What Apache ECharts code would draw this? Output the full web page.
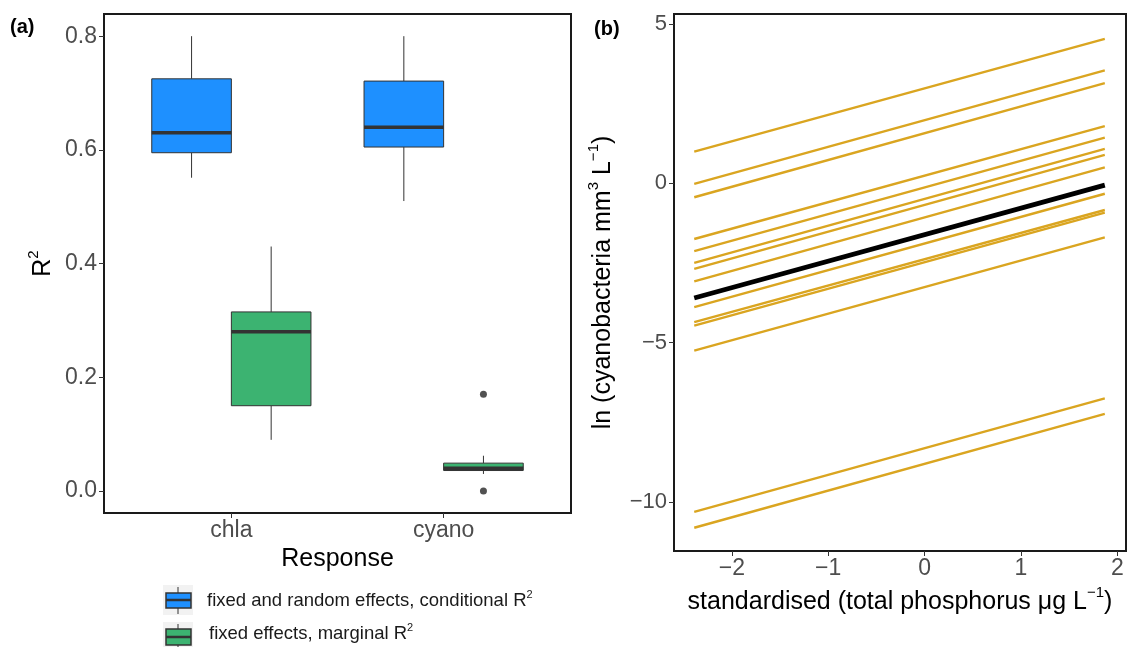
<!DOCTYPE html>
<html lang="en">
<head>
    <meta charset="UTF-8">
    <title>R2 boxplots and cyanobacteria lines</title>
    <script src="https://cdn.jsdelivr.net/npm/echarts@6.0.0/dist/echarts.min.js"></script>
    <style>
        body { margin: 0; background: #fff; }
    </style>
</head>
<body>
<div id="main" style="width: 1129px;height:647px;"></div>
<script type="text/javascript">
    // ---- panel (a) data: [lower whisker, Q1, median, Q3, upper whisker]
    var responses = ['chla', 'cyano'];
    var conditionalR2 = [
        [0.551, 0.595, 0.630, 0.725, 0.800],
        [0.510, 0.605, 0.640, 0.721, 0.800]
    ];
    var marginalR2 = [
        [0.090, 0.150, 0.280, 0.315, 0.430],
        [0.030, 0.036, 0.040, 0.049, 0.062]
    ];
    // outliers of the marginal R2 boxes: [response index, value]
    var marginalOutliers = [[1, 0.170], [1, 0.000]];
    var r2Ticks = [0, 0.2, 0.4, 0.6, 0.8];

    // ---- panel (b) data: one line per site (random intercepts) + fixed effect
    var tpRange = [-2.39, 1.87];
    var siteStart = [0.99, -0.02, -0.44, -1.75, -2.13, -2.50, -2.69, -3.08, -3.89, -4.36, -4.47, -5.25, -10.31, -10.81];
    var siteEnd = [4.53, 3.54, 3.14, 1.79, 1.43, 1.08, 0.89, 0.50, -0.33, -0.84, -0.92, -1.70, -6.75, -7.24];
    var fixedLine = [-3.60, -0.06];
    var tpTicks = [-2, -1, 0, 1, 2];
    var cyanoTicks = [-10, -5, 0, 5];

    var FONT = 'Liberation Sans, Arial, sans-serif';
    var BOX_W = 0.375;

    function minus(v) {
        return String(v).replace('-', '\u2212');
    }

    function boxItem(stats, i, offset) {
        return [i + 1 + offset].concat(stats);
    }

    function renderBox(params, api) {
        var x = api.value(0);
        var lo = api.coord([x, api.value(1)]);
        var q1 = api.coord([x, api.value(2)]);
        var md = api.coord([x, api.value(3)]);
        var q3 = api.coord([x, api.value(4)]);
        var hi = api.coord([x, api.value(5)]);
        var w = api.size([BOX_W, 0])[0];
        var edge = { stroke: '#333333', lineWidth: 1 };
        return {
            type: 'group',
            children: [
                { type: 'line', shape: { x1: hi[0], y1: hi[1], x2: q3[0], y2: q3[1] }, style: edge },
                { type: 'line', shape: { x1: lo[0], y1: lo[1], x2: q1[0], y2: q1[1] }, style: edge },
                {
                    type: 'rect',
                    shape: { x: q3[0] - w / 2, y: q3[1], width: w, height: q1[1] - q3[1] },
                    style: { fill: api.visual('color'), stroke: '#333333', lineWidth: 1 }
                },
                {
                    type: 'line',
                    shape: { x1: md[0] - w / 2, y1: md[1], x2: md[0] + w / 2, y2: md[1] },
                    style: { stroke: '#333333', lineWidth: 3.5 }
                }
            ]
        };
    }

    var myChart = echarts.init(document.getElementById('main'));

    var labelColor = '#4D4D4D';
    var supRich = {
        t: { fontSize: 25, fontFamily: FONT, color: '#000', lineHeight: 34 },
        s: { fontSize: 15, fontFamily: FONT, color: '#000', verticalAlign: 'top', lineHeight: 15 }
    };
    var legendRich = {
        t: { fontSize: 18.5, fontFamily: FONT, fill: '#1A1A1A', lineHeight: 24 },
        s: { fontSize: 11, fontFamily: FONT, fill: '#1A1A1A', verticalAlign: 'top', lineHeight: 11 }
    };
    var hiddenLine = { show: false, onZero: false };

    var series = [
        {
            name: 'conditional',
            type: 'custom',
            xAxisIndex: 0, yAxisIndex: 0,
            renderItem: renderBox,
            itemStyle: { color: '#1E90FF' },
            encode: { x: 0, y: [1, 2, 3, 4, 5] },
            data: conditionalR2.map(function (s, i) { return boxItem(s, i, -BOX_W / 2); })
        },
        {
            name: 'marginal',
            type: 'custom',
            xAxisIndex: 0, yAxisIndex: 0,
            renderItem: renderBox,
            itemStyle: { color: '#3CB371' },
            encode: { x: 0, y: [1, 2, 3, 4, 5] },
            data: marginalR2.map(function (s, i) { return boxItem(s, i, BOX_W / 2); })
        },
        {
            name: 'outliers',
            type: 'scatter',
            xAxisIndex: 0, yAxisIndex: 0,
            symbolSize: 7,
            itemStyle: { color: '#262626' },
            data: marginalOutliers.map(function (o) { return [o[0] + 1 + BOX_W / 2, o[1]]; })
        }
    ];

    for (var i = 0; i < siteStart.length; i++) {
        series.push({
            type: 'line',
            xAxisIndex: 1, yAxisIndex: 1,
            showSymbol: false,
            lineStyle: { color: '#DAA520', width: 2.4 },
            data: [[tpRange[0], siteStart[i]], [tpRange[1], siteEnd[i]]]
        });
    }
    series.push({
        type: 'line',
        xAxisIndex: 1, yAxisIndex: 1,
        showSymbol: false,
        z: 5,
        lineStyle: { color: '#000000', width: 4.8 },
        data: [[tpRange[0], fixedLine[0]], [tpRange[1], fixedLine[1]]]
    });

    var option = {
        animation: false,
        grid: [
            { left: 104, top: 14, width: 467, height: 499, show: true, borderColor: '#1A1A1A', borderWidth: 2 },
            { left: 674, top: 14, width: 452, height: 537, show: true, borderColor: '#1A1A1A', borderWidth: 2 }
        ],
        xAxis: [
            {
                type: 'value', gridIndex: 0, min: 0.4, max: 2.6,
                splitLine: { show: false },
                axisLine: hiddenLine,
                axisTick: { customValues: [1, 2], length: 5, lineStyle: { color: '#333' } },
                axisLabel: {
                    customValues: [1, 2], fontSize: 23, margin: 6,
                    color: labelColor, fontFamily: FONT,
                    formatter: function (v) { return responses[Math.round(v) - 1]; }
                },
                name: 'Response', nameLocation: 'middle', nameGap: 28,
                nameTextStyle: { fontSize: 25, color: '#000', fontFamily: FONT }
            },
            {
                type: 'value', gridIndex: 1, min: -2.6, max: 2.09,
                splitLine: { show: false },
                axisLine: hiddenLine,
                axisTick: { customValues: tpTicks, length: 5, lineStyle: { color: '#333' } },
                axisLabel: {
                    customValues: tpTicks, fontSize: 23, margin: 6,
                    color: labelColor, fontFamily: FONT,
                    formatter: function (v) { return minus(v); }
                },
                name: '{t|standardised (total phosphorus \u03bcg L}{s|\u22121}{t|)}',
                nameLocation: 'middle', nameGap: 30,
                nameTextStyle: { rich: supRich }
            }
        ],
        yAxis: [
            {
                type: 'value', gridIndex: 0, min: -0.0387, max: 0.839,
                splitLine: { show: false },
                axisLine: hiddenLine,
                axisTick: { customValues: r2Ticks, length: 5, lineStyle: { color: '#333' } },
                axisLabel: {
                    customValues: r2Ticks, fontSize: 23, margin: 7,
                    color: labelColor, fontFamily: FONT,
                    formatter: function (v) { return v.toFixed(1); }
                },
                name: '{t|R}{s|2}', nameLocation: 'middle', nameGap: 44, nameRotate: 90,
                nameTextStyle: { rich: supRich }
            },
            {
                type: 'value', gridIndex: 1, min: -11.54, max: 5.31,
                splitLine: { show: false },
                axisLine: hiddenLine,
                axisTick: { customValues: cyanoTicks, length: 5, lineStyle: { color: '#333' } },
                axisLabel: {
                    customValues: cyanoTicks, fontSize: 22, margin: 7,
                    color: labelColor, fontFamily: FONT,
                    formatter: function (v) { return minus(v); }
                },
                name: '{t|ln (cyanobacteria mm}{s|3}{t| L}{s|\u22121}{t|)}',
                nameLocation: 'middle', nameGap: 54, nameRotate: 90,
                nameTextStyle: { rich: supRich }
            }
        ],
        graphic: [
            { type: 'text', x: 10, y: 27, style: { text: '(a)', font: 'bold 20px ' + FONT, fill: '#000', verticalAlign: 'middle' } },
            { type: 'text', x: 594, y: 29, style: { text: '(b)', font: 'bold 20px ' + FONT, fill: '#000', verticalAlign: 'middle' } },
            // legend keys (boxplot glyphs)
            { type: 'rect', shape: { x: 163, y: 585, width: 30, height: 30 }, style: { fill: '#F2F2F2' } },
            { type: 'line', shape: { x1: 178, y1: 587, x2: 178, y2: 614 }, style: { stroke: '#333', lineWidth: 1 } },
            { type: 'rect', shape: { x: 166, y: 593, width: 25, height: 15 }, style: { fill: '#1E90FF', stroke: '#333', lineWidth: 1.5 } },
            { type: 'line', shape: { x1: 166, y1: 600, x2: 191, y2: 600 }, style: { stroke: '#333', lineWidth: 2.5 } },
            { type: 'rect', shape: { x: 163, y: 622, width: 30, height: 30 }, style: { fill: '#F2F2F2' } },
            { type: 'line', shape: { x1: 178, y1: 624, x2: 178, y2: 651 }, style: { stroke: '#333', lineWidth: 1 } },
            { type: 'rect', shape: { x: 166, y: 629, width: 25, height: 16 }, style: { fill: '#3CB371', stroke: '#333', lineWidth: 1.5 } },
            { type: 'line', shape: { x1: 166, y1: 637, x2: 191, y2: 637 }, style: { stroke: '#333', lineWidth: 2.5 } },
            {
                type: 'text', x: 207, y: 601,
                style: { text: '{t|fixed and random effects, conditional R}{s|2}', verticalAlign: 'middle', rich: legendRich }
            },
            {
                type: 'text', x: 209, y: 634,
                style: { text: '{t|fixed effects, marginal R}{s|2}', verticalAlign: 'middle', rich: legendRich }
            }
        ],
        series: series
    };

    myChart.setOption(option);
</script>
</body>
</html>
